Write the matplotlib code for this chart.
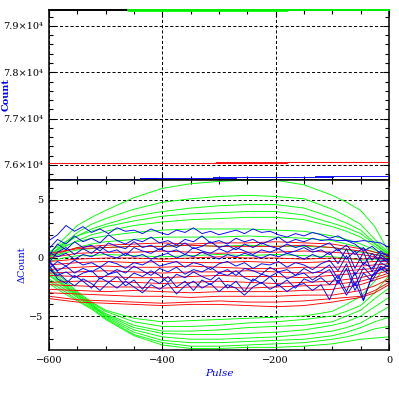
import numpy as np
import matplotlib.pyplot as plt
from matplotlib.ticker import MultipleLocator, FixedLocator

# ---- upper panel (raw counts) ----
top_black_x = [-600, -460]
top_black_y = [79345, 79345]
top_green_x = [-460, 0]
top_green_y = [79345, 79345]
top_green2_x = [-460, -180]
top_green2_y = [79325, 79325]
top_red_x = [-600, -305, -305, 0]
top_red_y = [76040, 76040, 76060, 76060]
top_red2_x = [-305, -180]
top_red2_y = [76042, 76042]
top_blue_x = [-579, -439, -439, -311, -311, -131, -131, -99, -99, 0]
top_blue_y = [75708, 75708, 75718, 75718, 75738, 75738, 75758, 75758, 75772, 75772]
top_blue2_x = [-439, -410, -311, -270, -131, -99]
top_blue2_y = [75710, 75710, 75722, 75722, 75742, 75742]

# ---- lower panel (delta counts) ----
pulse_g = [-600, -575, -550, -525, -500, -450, -400, -350, -300, -250, -200,
           -150, -100, -75, -50, -25, 0]
green_lines = [
    [0.4, 1.6, 2.8, 3.5, 4.1, 5.2, 6.0, 6.4, 6.6, 6.7, 6.7, 6.3, 5.4, 4.8, 4.1, 2.7, 0.5],
    [0.2, 1.2, 2.2, 2.9, 3.4, 4.2, 4.8, 5.1, 5.3, 5.4, 5.3, 5.1, 4.2, 3.6, 2.9, 1.6, 0.4],
    [0.1, 1.1, 1.9, 2.5, 2.9, 3.6, 4.0, 4.3, 4.5, 4.6, 4.6, 4.3, 3.5, 3.0, 2.4, 1.3, 0.3],
    [0.5, 1.3, 1.9, 2.3, 2.7, 3.2, 3.6, 3.8, 3.9, 4.0, 4.0, 3.7, 3.0, 2.6, 2.1, 1.2, 0.3],
    [0.0, 0.9, 1.5, 2.0, 2.3, 2.8, 3.1, 3.3, 3.4, 3.5, 3.5, 3.3, 2.7, 2.3, 1.8, 1.0, 0.2],
    [0.3, 1.0, 1.4, 1.7, 1.9, 2.2, 2.4, 2.5, 2.5, 2.5, 2.4, 2.3, 1.9, 1.6, 1.2, 0.7, 0.1],
    [-0.2, 0.5, 0.9, 1.2, 1.4, 1.6, 1.8, 1.8, 1.8, 1.9, 1.8, 1.7, 1.5, 1.2, 0.9, 0.5, 0.0],
    [0.1, 0.4, 0.7, 0.8, 0.9, 1.0, 1.0, 1.1, 1.0, 1.1, 1.0, 1.0, 0.9, 0.7, 0.5, 0.3, 0.0],
    [-0.3, 0.0, 0.2, 0.2, 0.3, 0.2, 0.1, 0.2, 0.3, 0.2, 0.3, 0.2, 0.1, 0.0, -0.2, -0.1, -0.3],
    [-0.8, -1.8, -2.9, -3.8, -4.5, -5.2, -5.5, -5.4, -5.3, -5.2, -5.1, -5.0, -4.6, -4.0, -3.3, -2.0, -0.2],
    [-1.0, -2.0, -3.0, -3.9, -4.6, -5.5, -5.9, -5.9, -5.8, -5.6, -5.5, -5.3, -5.0, -4.6, -4.1, -3.0, -1.5],
    [-1.2, -2.2, -3.1, -4.0, -4.8, -5.8, -6.3, -6.3, -6.2, -6.0, -5.9, -5.8, -5.5, -5.0, -4.5, -3.5, -2.6],
    [-1.5, -2.4, -3.3, -4.1, -4.9, -6.0, -6.5, -6.6, -6.6, -6.5, -6.4, -6.2, -5.8, -5.5, -5.0, -4.2, -3.4],
    [-1.8, -2.6, -3.4, -4.2, -5.0, -6.2, -6.8, -7.0, -7.0, -6.9, -6.8, -6.6, -6.3, -6.0, -5.6, -4.9, -4.2],
    [-1.4, -2.3, -3.2, -4.0, -5.1, -6.4, -7.1, -7.3, -7.3, -7.2, -7.1, -7.0, -6.7, -6.4, -6.0, -5.5, -5.1],
    [-2.0, -2.8, -3.6, -4.3, -5.2, -6.6, -7.3, -7.6, -7.6, -7.5, -7.4, -7.3, -7.0, -6.8, -6.5, -6.1, -5.9],
    [-2.2, -3.0, -3.7, -4.4, -5.3, -6.7, -7.5, -7.8, -7.8, -7.7, -7.7, -7.6, -7.4, -7.2, -7.0, -6.9, -6.8],
]

pulse_r = [-600, -550, -500, -450, -400, -350, -300, -250, -200, -150, -100, -50, -25, 0]
red_lines = [
    [0.2, 0.9, 1.1, 1.2, 1.3, 1.2, 1.3, 1.3, 1.4, 1.3, 1.2, 0.8, 0.5, 0.3],
    [0.4, 0.8, 0.9, 1.0, 1.0, 1.1, 1.0, 1.0, 1.0, 1.1, 0.9, 0.6, 0.3, 0.1],
    [0.0, 0.4, 0.5, 0.5, 0.6, 0.5, 0.4, 0.5, 0.5, 0.6, 0.5, 0.3, 0.1, -0.1],
    [-0.3, -0.1, 0.0, 0.0, -0.1, 0.0, 0.1, 0.0, 0.0, -0.1, 0.0, -0.1, 0.0, -0.2],
    [-0.6, -0.4, -0.3, -0.4, -0.3, -0.4, -0.4, -0.3, -0.4, -0.4, -0.3, -0.4, -0.3, -0.3],
    [-1.0, -0.8, -0.7, -0.8, -0.8, -0.7, -0.8, -0.9, -0.9, -0.8, -0.8, -0.7, -0.6, -0.5],
    [-1.3, -1.2, -1.1, -1.2, -1.3, -1.2, -1.2, -1.1, -1.2, -1.3, -1.2, -1.0, -0.9, -0.7],
    [-1.5, -1.6, -1.6, -1.7, -1.7, -1.6, -1.5, -1.6, -1.6, -1.7, -1.5, -1.3, -1.1, -0.9],
    [-2.1, -2.0, -2.0, -2.1, -2.2, -2.1, -2.0, -2.1, -2.2, -2.1, -2.0, -1.7, -1.4, -1.1],
    [-2.3, -2.4, -2.5, -2.5, -2.6, -2.5, -2.5, -2.6, -2.5, -2.4, -2.3, -2.0, -1.7, -1.3],
    [-2.7, -2.8, -2.9, -2.8, -2.9, -3.0, -2.9, -2.9, -2.9, -2.8, -2.7, -2.3, -1.9, -1.5],
    [-3.0, -3.1, -3.2, -3.3, -3.3, -3.4, -3.3, -3.3, -3.3, -3.2, -3.2, -2.8, -2.4, -1.8],
    [-3.3, -3.6, -3.7, -3.8, -3.9, -3.8, -3.7, -3.8, -3.8, -3.7, -3.5, -3.3, -2.8, -2.1],
    [-3.5, -3.8, -3.9, -4.0, -4.1, -4.0, -4.0, -4.1, -4.2, -4.1, -3.8, -3.4, -3.0, -2.3],
]

pulse_b = list(range(-600, 1, 15))
blue_lines = [
    [1.5, 2.0, 2.8, 2.3, 2.7, 2.2, 2.5, 2.1, 2.6, 2.3, 2.4, 2.1, 2.5, 2.2, 2.0, 2.4, 2.2, 2.6, 2.1, 2.3,
     2.0, 2.2, 2.4, 2.1, 2.5, 2.2, 2.3, 2.0, 1.8, 2.1, 1.9, 2.2, 2.0, 1.7, 1.9, 1.5, 1.2, 0.6, 1.0, 0.4, 0.2],
    [0.8, 1.6, 1.2, 1.9, 1.4, 1.7, 1.3, 2.0, 1.5, 1.2, 1.6, 1.4, 1.8, 1.3, 1.5, 1.1, 1.6, 1.4, 1.9, 1.3,
     1.5, 1.2, 1.7, 1.4, 1.6, 1.2, 1.5, 1.8, 1.3, 1.6, 1.4, 1.7, 1.5, 1.6, 1.5, 1.5, 1.4, 1.5, 1.4, 1.3, 0.9],
    [0.2, 1.2, 0.7, 1.4, 0.9, 1.1, 0.6, 1.3, 1.0, 0.8, 1.4, 0.9, 1.1, 0.7, 1.2, 0.9, 1.3, 0.8, 1.0, 1.4,
     0.9, 1.1, 0.7, 1.2, 0.9, 1.3, 1.0, 0.8, 1.2, 0.9, 1.1, 0.7, 1.0, 1.3, 0.6, 1.1, 0.3, 0.9, -0.2, 0.6, 0.1],
    [-0.4, 0.5, 0.9, 0.3, 0.8, 0.4, 1.0, 0.5, 0.7, 0.2, 0.9, 0.6, 0.4, 0.8, 0.5, 0.7, 0.3, 0.9, 0.6, 0.4,
     0.8, 0.5, 0.9, 0.6, 0.3, 0.7, 0.5, 0.8, 0.4, 0.6, 0.9, 0.5, 0.7, 0.3, 0.8, -0.1, 0.6, -0.6, 0.4, -0.3, -0.1],
    [0.5, 0.1, 0.4, -0.1, 0.3, 0.1, 0.5, 0.2, 0.0, 0.4, 0.1, 0.3, -0.1, 0.2, 0.4, 0.0, 0.3, 0.1, 0.5, 0.2,
     -0.1, 0.3, 0.1, 0.4, 0.2, 0.0, 0.3, 0.1, 0.4, 0.2, -0.1, 0.3, 0.0, 0.5, -0.5, 0.8, -0.9, 0.5, -1.2, 0.3, -0.3],
    [-0.9, -0.3, -0.7, -0.2, -0.6, -0.4, -0.8, -0.3, -0.5, -0.9, -0.4, -0.6, -0.2, -0.7, -0.5, -0.3, -0.8, -0.4, -0.6, -1.0,
     -0.5, -0.3, -0.7, -0.4, -0.9, -0.5, -0.6, -0.3, -0.8, -0.4, -0.6, -1.0, -0.5, -0.2, -1.1, 0.2, -1.5, -0.4, -0.9, 0.1, -0.5],
    [-0.2, -1.1, -0.7, -1.3, -0.9, -1.2, -0.8, -1.4, -1.0, -1.3, -0.7, -1.1, -1.5, -0.9, -1.2, -0.8, -1.4, -1.0, -1.2, -0.8,
     -1.3, -1.0, -1.5, -0.9, -1.1, -1.4, -0.8, -1.2, -1.0, -1.5, -0.9, -1.3, -1.1, -0.6, -1.8, -0.5, -2.4, -0.8, -1.6, -0.4, -0.8],
    [-1.0, -1.5, -1.2, -1.7, -1.3, -1.1, -1.8, -1.4, -1.2, -1.9, -1.3, -1.6, -1.1, -1.5, -2.1, -1.4, -1.7, -1.2, -1.6, -1.9,
     -1.3, -1.5, -1.1, -1.7, -2.0, -1.4, -1.6, -1.2, -1.8, -1.5, -1.3, -1.9, -1.4, -1.0, -2.2, -0.9, -2.8, -1.3, -2.0, -0.7, -1.1],
    [-0.6, -1.8, -2.2, -1.5, -2.0, -2.6, -1.7, -2.1, -1.6, -2.4, -1.9, -2.7, -1.8, -2.2, -1.6, -2.5, -2.0, -2.8, -1.9, -2.3,
     -1.7, -2.6, -2.0, -2.9, -1.8, -2.2, -1.6, -2.4, -1.9, -2.6, -1.8, -2.1, -1.7, -2.3, -1.5, -2.9, -1.2, -3.6, -1.6, -0.9, -1.4],
    [-0.3, -1.2, -1.9, -2.4, -1.8, -2.2, -2.8, -2.1, -2.6, -2.0, -2.5, -3.0, -2.3, -2.7, -2.2, -3.1, -2.4, -2.0, -2.6, -2.2,
     -2.9, -2.3, -2.6, -3.2, -2.5, -2.1, -2.7, -2.3, -2.9, -2.4, -2.2, -2.8, -2.3, -3.6, -1.9, -3.2, -2.1, -3.7, -1.5, -1.0, -0.6],
]

upper_ticks = [76000, 77000, 78000, 79000]
upper_labels = ["7.6\u00d710\u2074", "7.7\u00d710\u2074", "7.8\u00d710\u2074", "7.9\u00d710\u2074"]
lower_ticks = [-5, 0, 5]
lower_labels = ["\u22125", "0", "5"]
x_ticks = [-600, -400, -200, 0]
x_labels = ["\u2212600", "\u2212400", "\u2212200", "0"]

plt.rcParams["font.family"] = ["DejaVu Serif"]
# small 1px steps get swallowed by path simplification otherwise
plt.rcParams["path.simplify"] = False
GREEN = "#00ff00"
LW = 0.65

fig = plt.figure(figsize=(3.99, 3.99), dpi=100)
ax1 = fig.add_axes([0.1228, 0.5489, 0.8521, 0.4261])
ax2 = fig.add_axes([0.1228, 0.1228, 0.8521, 0.4261])

# upper panel: top lines sit on the frame, so draw them over it
ax1.plot(top_black_x, top_black_y, color="black", lw=1.3, clip_on=False, zorder=5)
ax1.plot(top_green_x, top_green_y, color=GREEN, lw=1.3, clip_on=False, zorder=5)
ax1.plot(top_green2_x, top_green2_y, color=GREEN, lw=LW, zorder=5)
ax1.plot(top_red_x, top_red_y, color="red", lw=LW, zorder=4)
ax1.plot(top_red2_x, top_red2_y, color="red", lw=LW, zorder=4)
ax1.plot(top_blue_x, top_blue_y, color="blue", lw=LW, zorder=4)
for i in range(0, len(top_blue2_x), 2):
    ax1.plot(top_blue2_x[i:i + 2], top_blue2_y[i:i + 2], color="blue", lw=LW, zorder=4)
ax1.set_ylim(75676, 79345)
ax1.yaxis.set_major_locator(FixedLocator(upper_ticks))
ax1.set_yticklabels(upper_labels)
ax1.yaxis.set_minor_locator(MultipleLocator(200))
ax1.set_xticklabels([])

# lower panel
for g in green_lines:
    ax2.plot(pulse_g, g, color=GREEN, lw=LW)
for r in red_lines:
    ax2.plot(pulse_r, r, color="red", lw=LW)
for b in blue_lines:
    ax2.plot(pulse_b, b, color="blue", lw=LW)
ax2.set_ylim(-7.93, 6.72)
ax2.yaxis.set_major_locator(FixedLocator(lower_ticks))
ax2.set_yticklabels(lower_labels)
ax2.yaxis.set_minor_locator(MultipleLocator(1))

for ax in (ax1, ax2):
    ax.set_xlim(-600, 0)
    ax.xaxis.set_major_locator(FixedLocator(x_ticks))
    ax.xaxis.set_minor_locator(MultipleLocator(50))
    ax.grid(True, which="major", color="black", linestyle=(0, (3.2, 2.2)), lw=0.7)
    ax.tick_params(which="both", direction="in", top=True, right=True,
                   width=0.8, labelsize=7, pad=4)
    ax.tick_params(which="major", length=4.5)
    ax.tick_params(which="minor", length=2.8)
    for s in ax.spines.values():
        s.set_linewidth(1.1)

ax2.set_xticklabels(x_labels)

ax1.set_ylabel("Count", color="blue", fontsize=7, fontweight="bold")
ax2.set_ylabel("\u0394Count", color="blue", fontsize=7)
ax2.set_xlabel("Pulse", color="blue", fontsize=7.5, style="italic", labelpad=3)
ax1.yaxis.set_label_coords(-0.112, 0.5)
ax2.yaxis.set_label_coords(-0.065, 0.5)

fig.savefig("out.png", dpi=100)
